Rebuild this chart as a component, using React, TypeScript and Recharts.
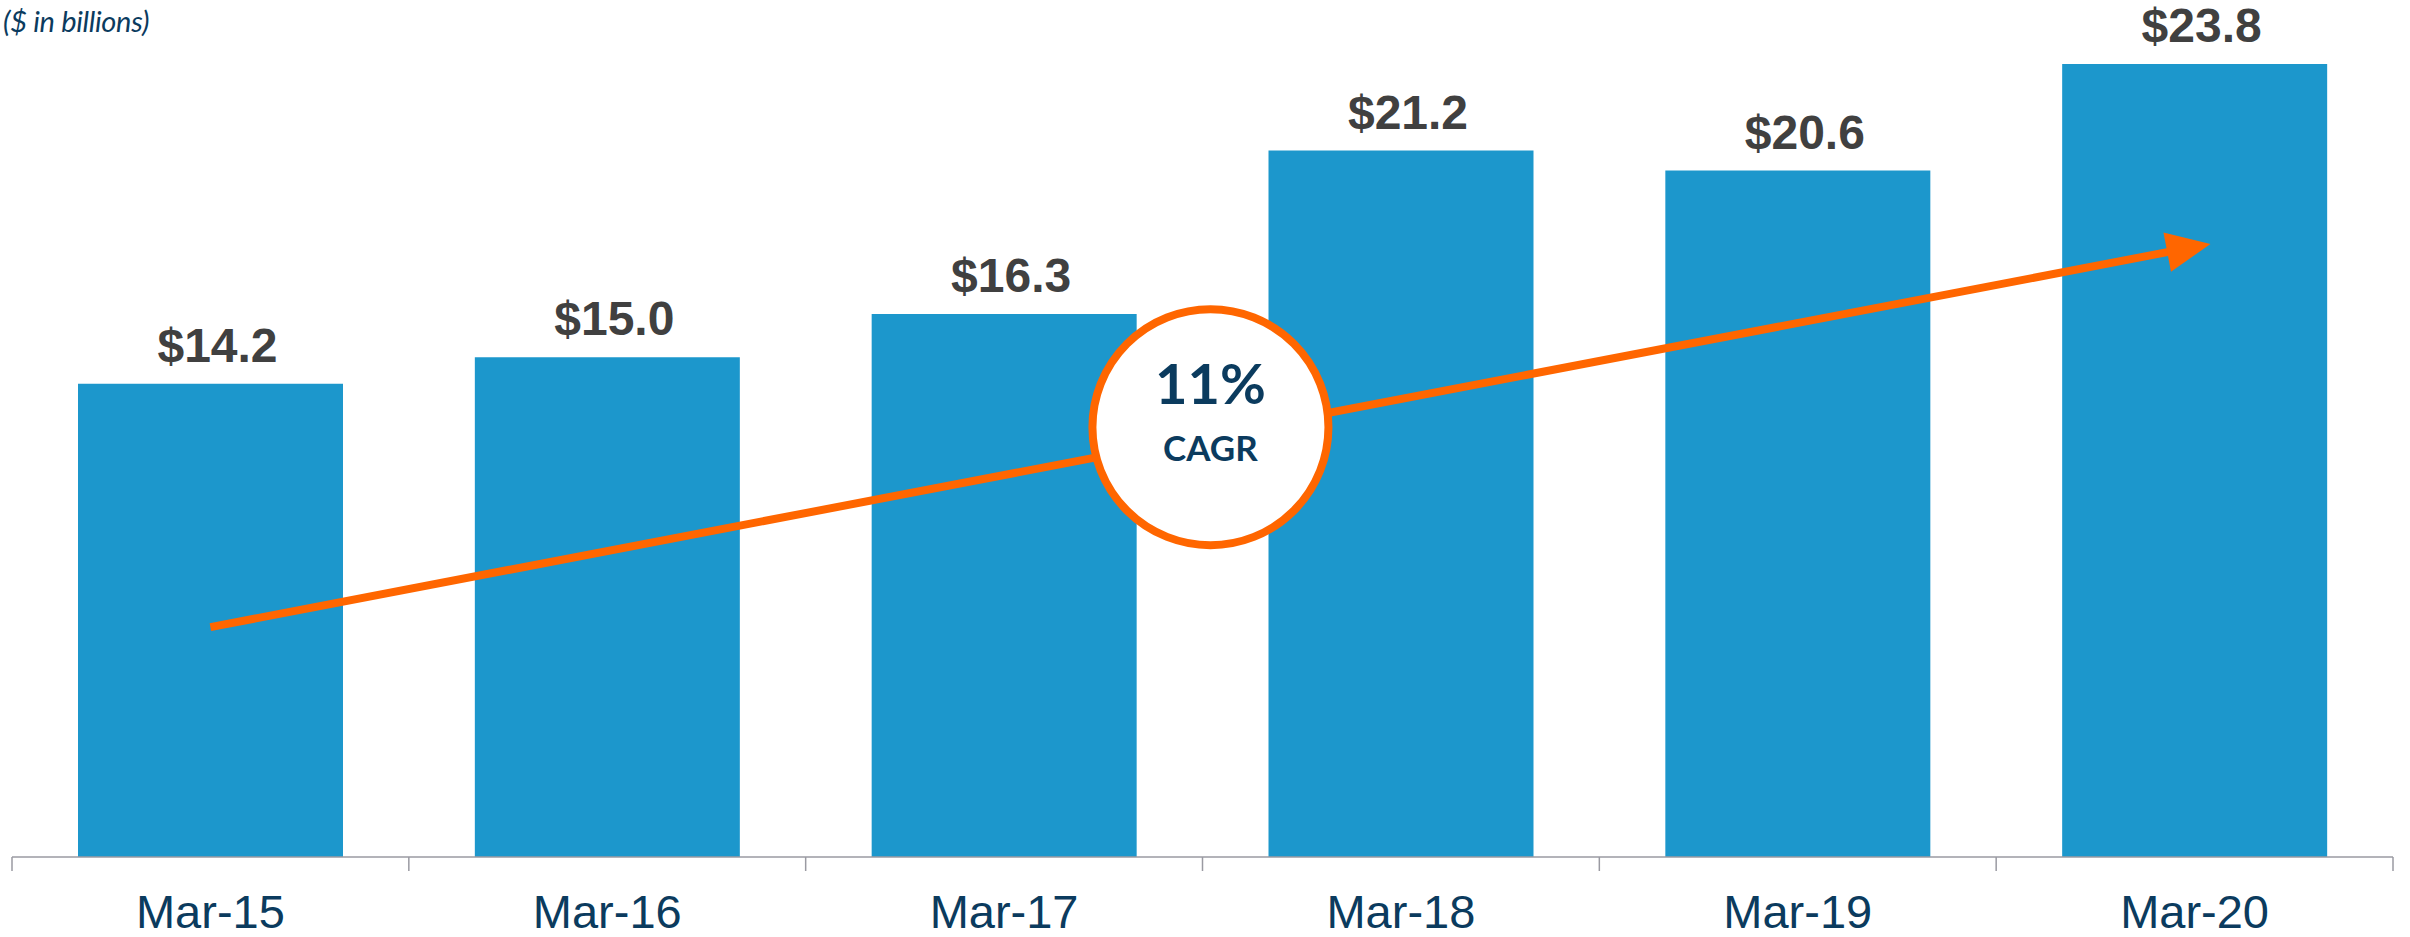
import React from "react"
import {
  BarChart, Bar, XAxis, YAxis, LabelList, ReferenceLine, ReferenceDot,
} from "recharts"

const categories = ["Mar-15", "Mar-16", "Mar-17", "Mar-18", "Mar-19", "Mar-20"]
const revenue = [14.2, 15.0, 16.3, 21.2, 20.6, 23.8]

// CAGR annotation, in category-index / value units
const cagrLabel = "11%"
const cagrSub = "CAGR"
const cagrDotX = 2.52
const cagrDotY = 12.9
const arrowX = [0, 5.04]
const arrowY = [6.9, 18.4]

const WIDTH = 2410
const HEIGHT = 937
const MARGIN = { top: 24, right: 17, left: 12, bottom: 0 }
const BAND = (WIDTH - MARGIN.left - MARGIN.right) / categories.length

const NAVY = "#0b3b5e"
const ORANGE = "#ff6600"

const data = categories.map((c, i) => ({ month: c, idx: i, value: revenue[i] }))

function MonthTick(props: any) {
  const { x, y, payload, index } = props
  const last = index === categories.length - 1
  return (
    <g>
      <line x1={x - BAND / 2} y1={y} x2={x - BAND / 2} y2={y + 14} stroke="#9a9aa2" strokeWidth={1.5} />
      {last && (
        <line x1={x + BAND / 2} y1={y} x2={x + BAND / 2} y2={y + 14} stroke="#9a9aa2" strokeWidth={1.5} />
      )}
      <text x={x} y={y + 71} textAnchor="middle" fontSize={47} fill={NAVY}
        fontFamily="'Liberation Sans', Arial, sans-serif">
        {payload.value}
      </text>
    </g>
  )
}

function ValueLabel(props: any) {
  const { x, y, width, value } = props
  return (
    <text x={x + width / 2 + 7} y={y - 22} textAnchor="middle" fontSize={48} fontWeight="bold"
      fill="#404040" fontFamily="'Liberation Sans', Arial, sans-serif">
      ${Number(value).toFixed(1)}
    </text>
  )
}

function Arrow(props: any) {
  const { x1, y1, x2, y2 } = props
  const dx = x2 - x1
  const dy = y2 - y1
  const len = Math.sqrt(dx * dx + dy * dy)
  const ux = dx / len
  const uy = dy / len
  const headLen = 44
  const halfW = 20
  const bx = x2 - ux * headLen
  const by = y2 - uy * headLen
  const lx = x2 - ux * (headLen - 4)
  const ly = y2 - uy * (headLen - 4)
  return (
    <g>
      <line x1={x1} y1={y1} x2={lx} y2={ly} stroke={ORANGE} strokeWidth={8} />
      <polygon
        points={`${x2},${y2} ${bx - uy * halfW},${by + ux * halfW} ${bx + uy * halfW},${by - ux * halfW}`}
        fill={ORANGE}
      />
    </g>
  )
}

function CagrBadge(props: any) {
  const { cx, cy } = props
  return (
    <g>
      <circle cx={cx} cy={cy} r={118} fill="#fff" stroke={ORANGE} strokeWidth={8} />
      <text x={cx} y={cy - 23} textAnchor="middle" fontSize={56} fontWeight="bold" fill={NAVY}
        fontFamily="Lato, 'Open Sans', sans-serif">
        {cagrLabel}
      </text>
      <text x={cx} y={cy + 34} textAnchor="middle" fontSize={35} fontWeight="bold" fill={NAVY}
        fontFamily="Lato, 'Open Sans', sans-serif">
        {cagrSub}
      </text>
    </g>
  )
}

export default function App() {
  return (
    <div style={{ position: "absolute", left: 0, top: 0, width: WIDTH, height: HEIGHT, background: "#fff" }}>
      <div style={{
        position: "absolute", left: 3, top: 4, fontSize: 29, fontStyle: "italic", lineHeight: "34px",
        color: NAVY, fontFamily: "Lato, 'Open Sans', sans-serif", zIndex: 2, letterSpacing: -0.3,
      }}>
        ($ in billions)
      </div>
      <BarChart width={WIDTH} height={HEIGHT} data={data} margin={MARGIN}>
        <XAxis
          dataKey="month"
          height={80}
          tickSize={0}
          tickMargin={0}
          tickLine={false}
          axisLine={{ stroke: "#9a9aa2", strokeWidth: 1.5 }}
          tick={<MonthTick />}
          interval={0}
        />
        <XAxis xAxisId="pos" dataKey="idx" type="number" domain={[-0.5, 5.5]} hide allowDataOverflow />
        <YAxis domain={[0, 25]} hide />
        <Bar dataKey="value" fill="#1c97cc" barSize={265} isAnimationActive={false}>
          <LabelList dataKey="value" content={<ValueLabel />} />
        </Bar>
        <ReferenceLine
          xAxisId="pos"
          segment={[{ x: arrowX[0], y: arrowY[0] }, { x: arrowX[1], y: arrowY[1] }]}
          shape={(p: any) => <Arrow {...p} />}
          ifOverflow="visible"
        />
        <ReferenceDot
          xAxisId="pos"
          x={cagrDotX}
          y={cagrDotY}
          r={118}
          shape={(p: any) => <CagrBadge {...p} />}
          ifOverflow="visible"
        />
      </BarChart>
    </div>
  )
}
